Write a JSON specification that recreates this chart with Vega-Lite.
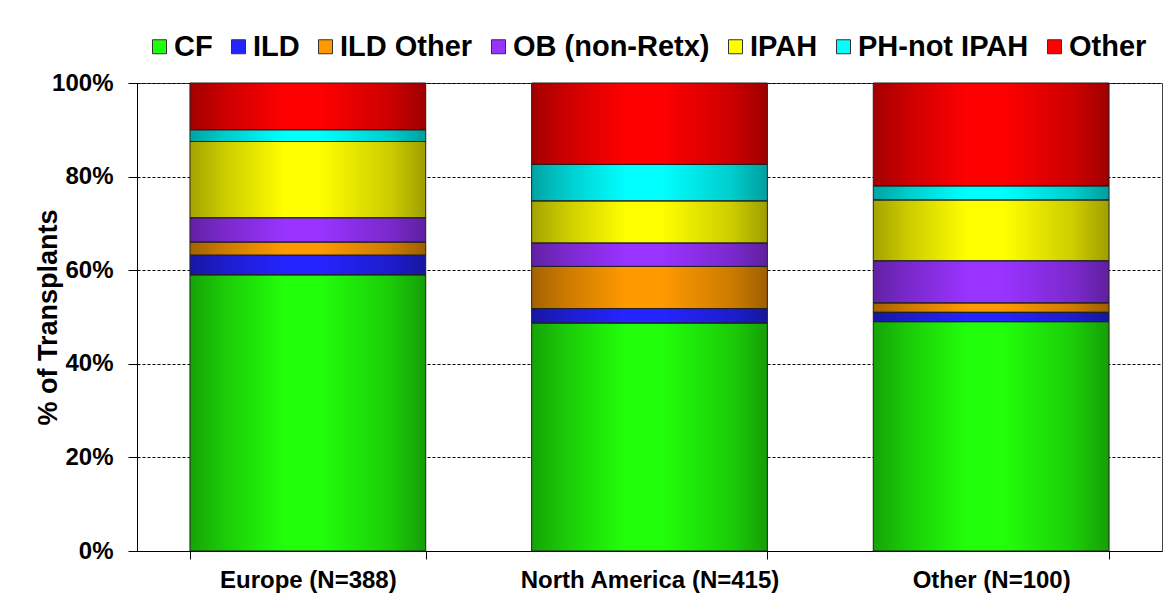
{
  "$schema": "https://vega.github.io/schema/vega-lite/v6.json",
  "width": 1025,
  "height": 468,
  "autosize": "none",
  "padding": {"left": 137, "top": 83, "right": 1, "bottom": 48},
  "background": "white",
  "config": {
    "font": "Liberation Sans",
    "view": {"stroke": "#444", "strokeWidth": 1}
  },
  "data": {
    "values": [
      {"region": "Europe (N=388)", "cat": "CF", "ord": 1, "pct": 59.0},
      {"region": "Europe (N=388)", "cat": "ILD", "ord": 2, "pct": 4.2},
      {"region": "Europe (N=388)", "cat": "ILD Other", "ord": 3, "pct": 2.8},
      {"region": "Europe (N=388)", "cat": "OB (non-Retx)", "ord": 4, "pct": 5.2},
      {"region": "Europe (N=388)", "cat": "IPAH", "ord": 5, "pct": 16.3},
      {"region": "Europe (N=388)", "cat": "PH-not IPAH", "ord": 6, "pct": 2.5},
      {"region": "Europe (N=388)", "cat": "Other", "ord": 7, "pct": 10.0},
      {"region": "North America (N=415)", "cat": "CF", "ord": 1, "pct": 48.7},
      {"region": "North America (N=415)", "cat": "ILD", "ord": 2, "pct": 3.1},
      {"region": "North America (N=415)", "cat": "ILD Other", "ord": 3, "pct": 9.0},
      {"region": "North America (N=415)", "cat": "OB (non-Retx)", "ord": 4, "pct": 5.0},
      {"region": "North America (N=415)", "cat": "IPAH", "ord": 5, "pct": 9.0},
      {"region": "North America (N=415)", "cat": "PH-not IPAH", "ord": 6, "pct": 7.8},
      {"region": "North America (N=415)", "cat": "Other", "ord": 7, "pct": 17.4},
      {"region": "Other (N=100)", "cat": "CF", "ord": 1, "pct": 49.0},
      {"region": "Other (N=100)", "cat": "ILD", "ord": 2, "pct": 2.0},
      {"region": "Other (N=100)", "cat": "ILD Other", "ord": 3, "pct": 2.0},
      {"region": "Other (N=100)", "cat": "OB (non-Retx)", "ord": 4, "pct": 9.0},
      {"region": "Other (N=100)", "cat": "IPAH", "ord": 5, "pct": 13.0},
      {"region": "Other (N=100)", "cat": "PH-not IPAH", "ord": 6, "pct": 3.0},
      {"region": "Other (N=100)", "cat": "Other", "ord": 7, "pct": 22.0}
    ]
  },
  "encoding": {
    "x": {
      "field": "region",
      "type": "nominal",
      "sort": ["Europe (N=388)", "North America (N=415)", "Other (N=100)"],
      "scale": {"paddingInner": 0.31, "paddingOuter": 0.155},
      "axis": {
        "title": null,
        "labelAngle": 0,
        "labelLimit": 0,
        "labelFontSize": 24,
        "labelFontWeight": "bold",
        "labelColor": "black",
        "domainColor": "black",
        "domainWidth": 1,
        "tickColor": "black",
        "tickSize": 8,
        "tickBand": "extent",
        "labelPadding": 9
      }
    },
    "y": {
      "field": "pct",
      "type": "quantitative",
      "stack": "zero",
      "scale": {"domain": [0, 100]},
      "axis": {
        "title": "% of Transplants",
        "titleFontSize": 27,
        "titleFontWeight": "bold",
        "titleColor": "black",
        "titlePadding": -11,
        "values": [0, 20, 40, 60, 80, 100],
        "labelExpr": "datum.value + '%'",
        "labelFontSize": 24,
        "labelFontWeight": "bold",
        "labelColor": "black",
        "labelPadding": 15,
        "tickSize": 9,
        "tickColor": "black",
        "domainColor": "black",
        "grid": true,
        "gridColor": "black",
        "gridDash": [3, 2],
        "gridWidth": 1
      }
    },
    "order": {"field": "ord", "type": "ordinal"}
  },
  "layer": [
    {
      "mark": {"type": "bar", "opacity": 1},
      "encoding": {
        "color": {
          "field": "cat",
          "type": "nominal",
          "scale": {
            "domain": ["CF", "ILD", "ILD Other", "OB (non-Retx)", "IPAH", "PH-not IPAH", "Other"],
            "range": ["#22ff0a", "#2424ff", "#ff9900", "#9933ff", "#ffff00", "#00ffff", "#ff0000"]
          },
          "legend": {
            "title": null,
            "orient": "none",
            "legendX": 8,
            "legendY": -51,
            "direction": "horizontal",
            "columns": 7,
            "labelLimit": 0,
            "labelFontSize": 29,
            "labelFontWeight": "bold",
            "labelColor": "black",
            "symbolType": "square",
            "symbolSize": 196,
            "symbolStrokeColor": "#333",
            "symbolStrokeWidth": 1,
            "symbolOpacity": 1,
            "columnPadding": 11,
            "labelOffset": 0
          }
        }
      }
    },
    {
      "mark": {
        "type": "bar",
        "fill": {
          "gradient": "linear",
          "x1": 0, "x2": 1, "y1": 0, "y2": 0,
          "stops": [
            {"offset": 0, "color": "rgba(0,0,0,0.36)"},
            {"offset": 0.15, "color": "rgba(0,0,0,0.2)"},
            {"offset": 0.4, "color": "rgba(0,0,0,0)"},
            {"offset": 0.55, "color": "rgba(0,0,0,0)"},
            {"offset": 0.85, "color": "rgba(0,0,0,0.2)"},
            {"offset": 1, "color": "rgba(0,0,0,0.38)"}
          ]
        },
        "stroke": "#222",
        "strokeWidth": 1,
        "opacity": 1
      },
      "encoding": {
        "detail": {"field": "cat"}
      }
    }
  ]
}
